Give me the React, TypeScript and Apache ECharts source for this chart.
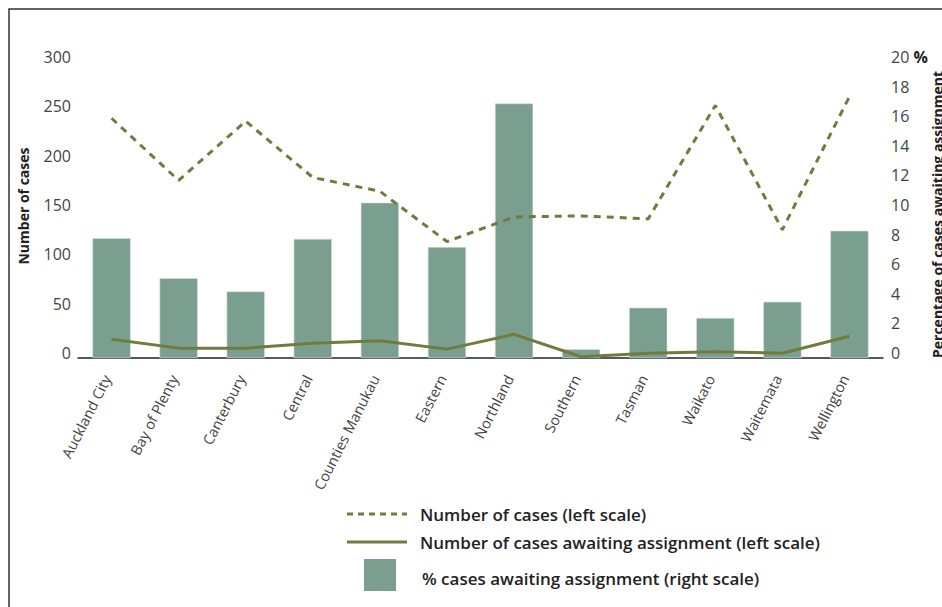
import React, { useEffect, useRef } from "react";
import * as echarts from "echarts";

const categories = [
  "Auckland City", "Bay of Plenty", "Canterbury", "Central", "Counties Manukau",
  "Eastern", "Northland", "Southern", "Tasman", "Waikato", "Waitemata", "Wellington",
];
const numberOfCases = [243, 180, 240, 183, 169, 118, 143, 144, 141, 256, 130, 265];
const awaitingAssignment = [19, 10, 10, 15, 17.5, 9, 24, 1.3, 4.8, 6.4, 4.8, 22];
const pctAwaiting = [8.1, 5.4, 4.5, 8.05, 10.5, 7.5, 17.2, 0.6, 3.4, 2.7, 3.8, 8.6];

const legendLabels = [
  "Number of cases (left scale)",
  "Number of cases awaiting assignment (left scale)",
  "% cases awaiting assignment (right scale)",
];

const BAR = "#7a9f8f";
const LINE = "#717b3d";
const FONT = "'Open Sans', 'Noto Sans', sans-serif";

export default function App() {
  const ref = useRef<HTMLDivElement>(null);
  useEffect(() => {
    if (!ref.current) return;
    const chart = echarts.init(ref.current, null, { renderer: "svg" });
    const legendText = { fontSize: 17, fontWeight: 600, fill: "#222", fontFamily: FONT, verticalAlign: "middle" };
    chart.setOption({
      animation: false,
      textStyle: { fontFamily: FONT },
      grid: { left: 78, right: 59, top: 62, bottom: 249, containLabel: false },
      legend: { show: false },
      xAxis: {
        type: "category",
        data: categories,
        axisLine: { show: true, lineStyle: { color: "#222", width: 1.5 } },
        axisTick: { show: false },
        axisLabel: {
          rotate: 63,
          fontSize: 14.5,
          color: "#444",
          margin: 9,
          interval: 0,
          fontFamily: FONT,
          padding: [0, 10, 0, 0],
        },
      },
      yAxis: [
        {
          type: "value",
          min: 0,
          max: 300,
          interval: 50,
          name: "Number of cases",
          nameLocation: "middle",
          nameRotate: 90,
          nameGap: 48,
          nameTextStyle: { fontSize: 14, fontWeight: "bold", color: "#222", fontFamily: FONT, padding: [0, 0, 0, 8] },
          axisLine: { show: false },
          axisTick: { show: false },
          splitLine: { show: false },
          axisLabel: { fontSize: 16, color: "#444", margin: 7, fontFamily: FONT, verticalAlign: "bottom", lineHeight: 10 },
        },
        {
          type: "value",
          min: 0,
          max: 20,
          interval: 2,
          axisLine: { show: false },
          axisTick: { show: false },
          splitLine: { show: false },
          axisLabel: {
            fontSize: 16,
            color: "#444",
            margin: 8,
            fontFamily: FONT,
            verticalAlign: "bottom",
            lineHeight: 10,
            formatter: (v: number) => (v === 20 ? "{n|20} {p|%}" : String(v)),
            rich: {
              n: { fontSize: 16, color: "#444", fontFamily: FONT, lineHeight: 10 },
              p: { fontSize: 16, fontWeight: "bold", color: "#222", fontFamily: FONT, lineHeight: 10 },
            },
          },
        },
      ],
      series: [
        {
          name: legendLabels[2],
          type: "bar",
          yAxisIndex: 1,
          data: pctAwaiting,
          barWidth: "57%",
          itemStyle: { color: BAR, borderColor: "#d8e3de", borderWidth: 0.6 },
          z: 1,
        },
        {
          name: legendLabels[0],
          type: "line",
          yAxisIndex: 0,
          data: numberOfCases,
          symbol: "none",
          lineStyle: { color: LINE, width: 3, type: [7, 6] },
          z: 3,
        },
        {
          name: legendLabels[1],
          type: "line",
          yAxisIndex: 0,
          data: awaitingAssignment,
          symbol: "none",
          lineStyle: { color: LINE, width: 3 },
          z: 3,
        },
      ],
      graphic: [
        {
          type: "rect",
          shape: { x: 9, y: 9, width: 960, height: 640 },
          style: { fill: "none", stroke: "#333", lineWidth: 1.5 },
          silent: true,
        },
        {
          type: "text",
          x: 937,
          y: 358,
          rotation: Math.PI / 2,
          style: {
            text: "Percentage of cases awaiting assignment",
            fontSize: 14,
            fontWeight: "bold",
            fill: "#222",
            fontFamily: FONT,
            align: "left",
            verticalAlign: "middle",
          },
        },
        {
          type: "line",
          shape: { x1: 347, y1: 514, x2: 407, y2: 514 },
          style: { stroke: LINE, lineWidth: 3, lineDash: [6, 5] },
        },
        { type: "text", x: 420, y: 514, style: { text: legendLabels[0], ...legendText } },
        {
          type: "line",
          shape: { x1: 347, y1: 542, x2: 407, y2: 542 },
          style: { stroke: LINE, lineWidth: 3 },
        },
        { type: "text", x: 420, y: 542, style: { text: legendLabels[1], ...legendText } },
        {
          type: "rect",
          shape: { x: 364, y: 559, width: 32, height: 32 },
          style: { fill: BAR },
        },
        { type: "text", x: 422, y: 578, style: { text: legendLabels[2], ...legendText } },
      ],
    });
    return () => chart.dispose();
  }, []);
  return (
    <div
      ref={ref}
      style={{ position: "fixed", left: 0, top: 0, width: 942, height: 607, background: "#fff" }}
    />
  );
}
